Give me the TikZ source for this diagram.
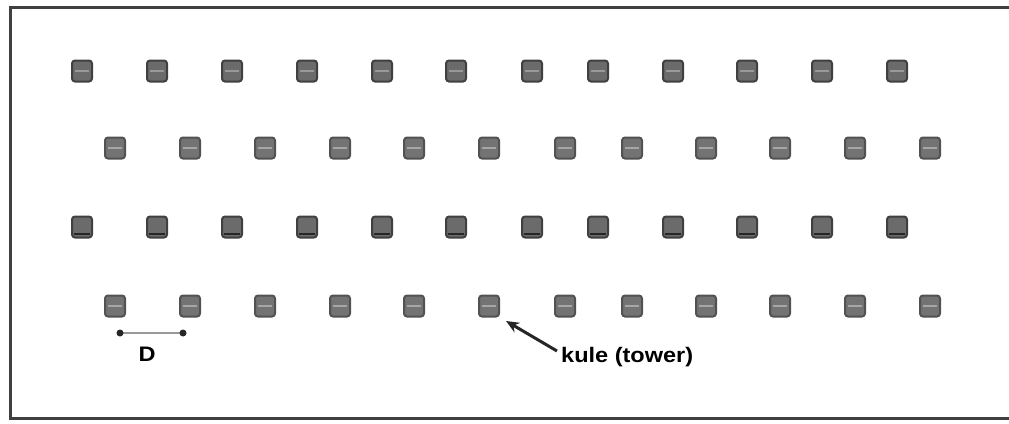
\documentclass[tikz,border=0pt]{standalone}
\usepackage{fontspec}
\setmainfont{Liberation Sans}
\usetikzlibrary{arrows.meta}
\begin{document}
\begin{tikzpicture}[x=1pt,y=-1pt,
  tower/.style={draw=black!75, line width=2pt, fill=black!58, rounded corners=3pt,
    minimum width=20pt, minimum height=21pt, inner sep=0pt, outer sep=0pt},
  frame/.style={line width=3pt, draw=black!75},
  lbl/.style={font=\bfseries\fontsize{21}{21}\selectfont, inner sep=0pt, xscale=1.12, transform shape}]
\useasboundingbox (0,0) rectangle (1009,423);
\draw[frame] (1009,7) -- (10,7) -- (10,418) -- (1009,418);
% rows 1 and 3
\foreach \x [count=\i] in {82,157,232,307,382,456,532,598,673,747,822,897}{
  \node[tower] (t-1-\i) at (\x,71) {};
  \draw[black!40, line width=1.5pt] ([xshift=3pt]t-1-\i.west) -- ([xshift=-3pt]t-1-\i.east);
  \node[tower] (t-3-\i) at (\x,227) {};
  \draw[black!85, line width=2.5pt] ([xshift=2pt,yshift=3.5pt]t-3-\i.south west) -- ([xshift=-2pt,yshift=3.5pt]t-3-\i.south east);
}
% rows 2 and 4
\foreach \x [count=\i] in {115,190,265,340,414,489,565,632,706,780,855,930}{
  \node[tower, fill=black!55, draw=black!68] (t-2-\i) at (\x,148) {};
  \draw[black!35, line width=1.6pt] ([xshift=3pt]t-2-\i.west) -- ([xshift=-3pt]t-2-\i.east);
  \node[tower, fill=black!55, draw=black!68] (t-4-\i) at (\x,306) {};
  \draw[black!35, line width=1.6pt] ([xshift=3pt]t-4-\i.west) -- ([xshift=-3pt]t-4-\i.east);
}
% distance D
\coordinate (d1) at (120,333);
\coordinate (d2) at (183,333);
\draw[black!40, line width=2.2pt] (d1) -- (d2);
\fill[black!85] (d1) circle (3.5pt) (d2) circle (3.5pt);
\node[lbl, anchor=base] (dlabel) at (147,361) {D};
% tower label
\node[lbl, anchor=base west] (klabel) at (561,362) {kule (tower)};
\coordinate (atail) at (557,351);
\coordinate (ahead) at (506,321);
\draw[line width=3pt, black!85, -{Stealth[length=13pt,width=11pt]}] (atail) -- (ahead);
\end{tikzpicture}
\end{document}
